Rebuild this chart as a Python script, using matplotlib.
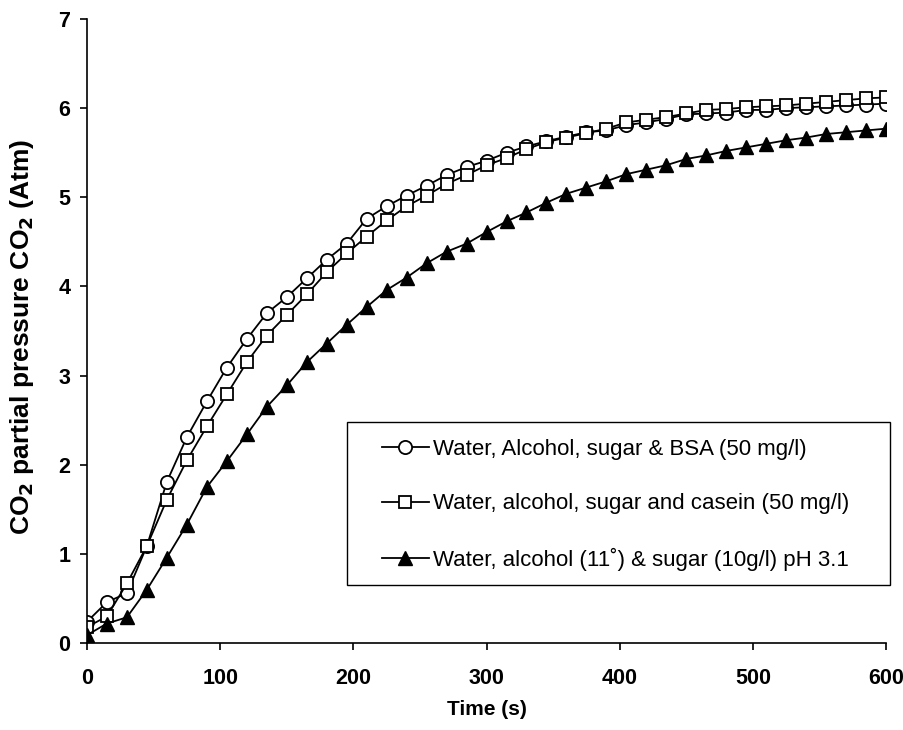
import matplotlib
matplotlib.use('Agg')
import matplotlib.pyplot as plt
from matplotlib.patches import Rectangle

plt.rcParams['font.family'] = ['Liberation Sans', 'DejaVu Sans']

time_s = list(range(0, 601, 15))

bsa = [0.24, 0.46, 0.56, 1.09, 1.81, 2.31, 2.71, 3.09, 3.41, 3.70,
       3.88, 4.09, 4.30, 4.48, 4.76, 4.90, 5.02, 5.13, 5.25, 5.34,
       5.41, 5.50, 5.57, 5.63, 5.68, 5.73, 5.75, 5.81, 5.84, 5.88,
       5.93, 5.94, 5.95, 5.98, 5.98, 6.00, 6.01, 6.02, 6.03, 6.04, 6.05]

casein = [0.18, 0.30, 0.67, 1.09, 1.61, 2.05, 2.43, 2.79, 3.15, 3.45,
          3.68, 3.91, 4.16, 4.37, 4.56, 4.74, 4.90, 5.02, 5.15, 5.25,
          5.36, 5.44, 5.54, 5.62, 5.67, 5.72, 5.77, 5.84, 5.87, 5.90,
          5.94, 5.98, 5.99, 6.01, 6.02, 6.03, 6.05, 6.07, 6.09, 6.11, 6.12]

base = [0.09, 0.22, 0.29, 0.60, 0.96, 1.33, 1.75, 2.04, 2.34, 2.65,
        2.89, 3.15, 3.36, 3.57, 3.77, 3.96, 4.10, 4.26, 4.39, 4.48,
        4.61, 4.73, 4.83, 4.94, 5.04, 5.11, 5.18, 5.26, 5.31, 5.36,
        5.43, 5.47, 5.52, 5.56, 5.60, 5.64, 5.67, 5.71, 5.73, 5.75, 5.77]

labels = ["Water, Alcohol, sugar & BSA (50 mg/l)",
          "Water, alcohol, sugar and casein (50 mg/l)",
          "Water, alcohol (11\u02da) & sugar (10g/l) pH 3.1"]

fig = plt.figure(figsize=(9.04, 7.3), dpi=100)
ax = fig.add_axes((0.0962, 0.119, 0.884, 0.855))

ax.plot(time_s, bsa, color='black', lw=1.3, marker='o', ms=9.5,
        mfc='white', mec='black', mew=1.3, label=labels[0])
ax.plot(time_s, casein, color='black', lw=1.3, marker='s', ms=9,
        mfc='white', mec='black', mew=1.3, label=labels[1])
ax.plot(time_s, base, color='black', lw=1.3, marker='^', ms=10,
        mfc='black', mec='black', mew=1.0, label=labels[2])

ax.set_xlim(0, 600)
ax.set_ylim(0, 7)
ax.set_xticks(range(0, 601, 100))
ax.set_yticks(range(0, 8))
for sp in ('top', 'right'):
    ax.spines[sp].set_visible(False)
ax.spines['left'].set_linewidth(1.2)
ax.spines['bottom'].set_linewidth(1.2)
ax.tick_params(direction='out', length=5, width=1.2, labelsize=15.5)
ax.tick_params(axis='x', pad=13)
ax.tick_params(axis='y', pad=7)
for lab in ax.get_xticklabels() + ax.get_yticklabels():
    lab.set_fontweight('bold')

ax.set_xlabel("Time (s)", fontsize=15, fontweight='bold', labelpad=8)
ax.set_ylabel("CO$_\\mathbf{2}$ partial pressure CO$_\\mathbf{2}$ (Atm)",
              fontsize=19, fontweight='bold')
ax.yaxis.set_label_coords(-0.064, 0.49)

# legend frame drawn separately so the padding can differ per side
box = Rectangle((0.325, 0.093), 0.68, 0.261, transform=ax.transAxes,
                facecolor='white', edgecolor='black', lw=1.0,
                clip_on=False, zorder=4)
ax.add_patch(box)
leg = ax.legend(loc='upper left', bbox_to_anchor=(0.369, 0.327),
                fontsize=16, frameon=False, labelspacing=1.5,
                handlelength=2.1, handletextpad=0.2,
                borderpad=0, borderaxespad=0)
leg.set_zorder(5)

plt.savefig("out.png", dpi=100)
